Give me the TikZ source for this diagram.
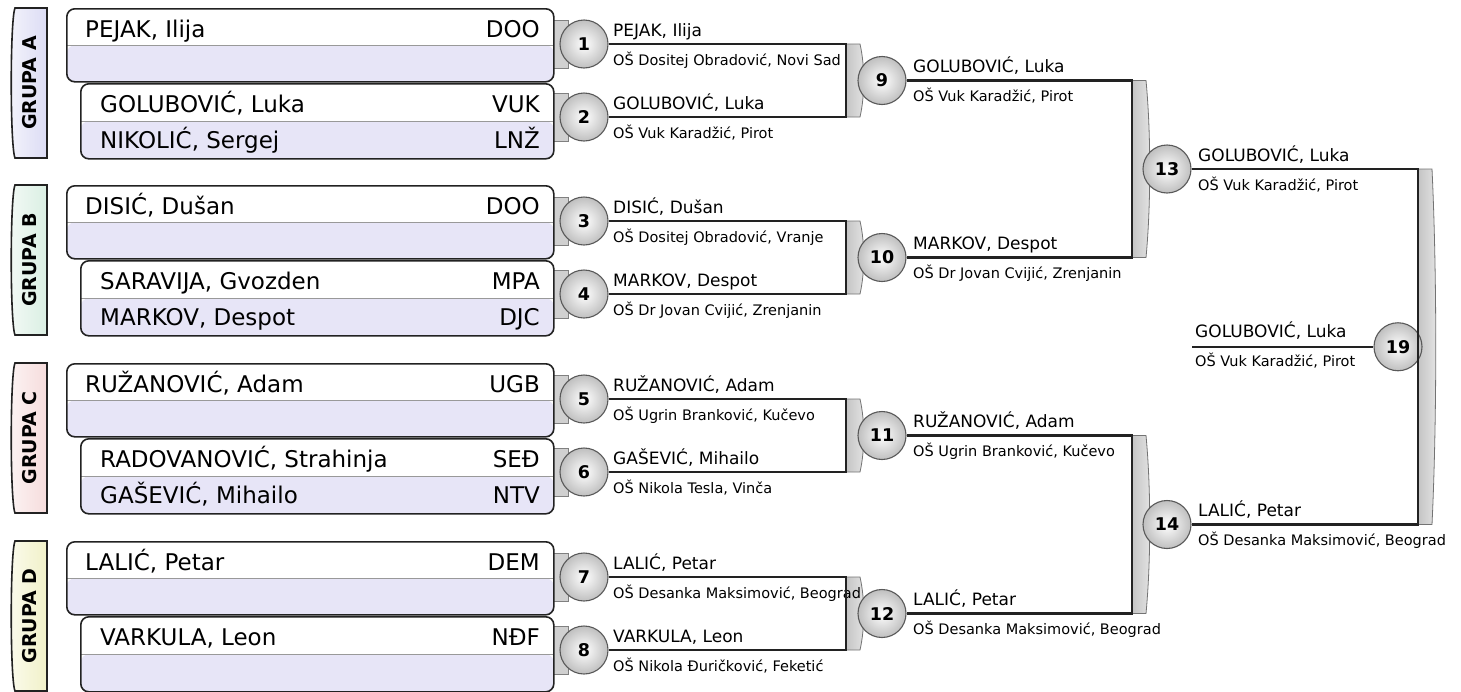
\documentclass[tikz,border=0pt]{standalone}
\usepackage{fontspec}
\setmainfont{DejaVu Sans}
\usetikzlibrary{backgrounds,calc}
\definecolor{ink}{HTML}{222222}
\definecolor{lav}{HTML}{E7E5F7}
\definecolor{grpA}{HTML}{DCDCF4}
\definecolor{grpB}{HTML}{DAEFE3}
\definecolor{grpC}{HTML}{F6DCDC}
\definecolor{grpD}{HTML}{F1F1C8}
\definecolor{band}{HTML}{C4C4C4}

\tikzset{
  pbox/.style={draw=ink,line width=1.6pt,rounded corners=8pt,fill=white,inner sep=0pt,anchor=north west,
    path picture={\fill[lav] (path picture bounding box.west) rectangle (path picture bounding box.south east);
      \draw[black!40,line width=.8pt] (path picture bounding box.west) -- (path picture bounding box.east);}},
  ball/.style={circle,draw=black!65,line width=1.1pt,minimum size=48pt,inner sep=0pt,
    inner color=white,outer color=gray!50,font=\bfseries\fontsize{17.5}{17.5}\selectfont},
  wire/.style={ink,line width=2.2pt},
  bandfill/.style={draw=black!55,line width=.8pt,left color=band,right color=band!45},
  tabfill/.style={draw=black!50,line width=.8pt,fill=band!80},
  pname/.style={anchor=base west,inner sep=0pt,font=\fontsize{23}{26}\selectfont},
  pcode/.style={anchor=base east,inner sep=0pt,font=\fontsize{23}{26}\selectfont},
  nm/.style={anchor=base west,inner sep=0pt,font=\fontsize{17}{20}\selectfont},
  sc/.style={anchor=base west,inner sep=0pt,font=\fontsize{14.5}{17}\selectfont},
  grp/.style={inner sep=0pt,font=\bfseries\fontsize{19}{21}\selectfont}
}

\begin{document}
\begin{tikzpicture}[x=1pt,y=-1pt]
  \path[use as bounding box] (0,0) rectangle (1461,691);

  % groups: side tab, seeded box and the pair box
  \foreach \g/\yy/\col/\na/\ca/\nb/\cb/\nc/\cc in {
    A/8/grpA/{PEJAK, Ilija}/DOO/{GOLUBOVIĆ, Luka}/VUK/{NIKOLIĆ, Sergej}/LNŽ,
    B/185/grpB/{DISIĆ, Dušan}/DOO/{SARAVIJA, Gvozden}/MPA/{MARKOV, Despot}/DJC,
    C/363/grpC/{RUŽANOVIĆ, Adam}/UGB/{RADOVANOVIĆ, Strahinja}/SEĐ/{GAŠEVIĆ, Mihailo}/NTV,
    D/541/grpD/{LALIĆ, Petar}/DEM/{VARKULA, Leon}/NĐF/{}/{}}{
    \draw[ink,line width=1.6pt,left color=\col!35!white,right color=\col]
      (15,\yy) .. controls (10,\yy+12) and (10,\yy+138) .. (15,\yy+150) -- (47,\yy+150) -- (47,\yy) -- cycle;
    \node[grp,rotate=90] (g\g) at (30,\yy+75) {GRUPA \g};
    \node[pbox,minimum width=487pt,minimum height=73pt] (b\g1) at (66,\yy) {};
    \node[pbox,minimum width=473pt,minimum height=75pt] (b\g2) at (80,\yy+75) {};
    \node[pname] (p\g1) at (85,\yy+29) {\na};
    \node[pcode] (c\g1) at (540,\yy+29) {\ca};
    \node[pname] (p\g2) at (100,\yy+104) {\nb};
    \node[pcode] (c\g2) at (540,\yy+104) {\cb};
    \node[pname] (p\g3) at (100,\yy+140) {\nc};
    \node[pcode] (c\g3) at (540,\yy+140) {\cc};
  }

  % first round matches
  \foreach \i/\y/\nm/\sc in {
    1/44/{PEJAK, Ilija}/{OŠ Dositej Obradović, Novi Sad},
    2/117/{GOLUBOVIĆ, Luka}/{OŠ Vuk Karadžić, Pirot},
    3/221/{DISIĆ, Dušan}/{OŠ Dositej Obradović, Vranje},
    4/294/{MARKOV, Despot}/{OŠ Dr Jovan Cvijić, Zrenjanin},
    5/399/{RUŽANOVIĆ, Adam}/{OŠ Ugrin Branković, Kučevo},
    6/472/{GAŠEVIĆ, Mihailo}/{OŠ Nikola Tesla, Vinča},
    7/577/{LALIĆ, Petar}/{OŠ Desanka Maksimović, Beograd},
    8/650/{VARKULA, Leon}/{OŠ Nikola Đuričković, Feketić}}{
    \node[ball] (m\i) at (584,\y) {\i};
    \begin{scope}[on background layer]
      \draw[tabfill] (553,\y-24) rectangle (568,\y+24);
    \end{scope}
    \node[nm] (n\i) at (613,\y-8) {\nm};
    \node[sc] (s\i) at (613,\y+21) {\sc};
  }

  % later rounds: winner of a and b meets in i
  \foreach \i/\a/\b/\xk/\xm/\nm/\sc in {
    9/1/2/846/882/{GOLUBOVIĆ, Luka}/{OŠ Vuk Karadžić, Pirot},
    10/3/4/846/882/{MARKOV, Despot}/{OŠ Dr Jovan Cvijić, Zrenjanin},
    11/5/6/846/882/{RUŽANOVIĆ, Adam}/{OŠ Ugrin Branković, Kučevo},
    12/7/8/846/882/{LALIĆ, Petar}/{OŠ Desanka Maksimović, Beograd},
    13/9/10/1132/1167/{GOLUBOVIĆ, Luka}/{OŠ Vuk Karadžić, Pirot},
    14/11/12/1132/1167/{LALIĆ, Petar}/{OŠ Desanka Maksimović, Beograd}}{
    \path (m\a) -- (m\b) coordinate[pos=.5] (mid\i);
    \coordinate (x\i) at (\xk,0);
    \coordinate (xm\i) at (\xm,0);
    \coordinate (t\i) at (m\a -| x\i);
    \coordinate (u\i) at (m\b -| x\i);
    \node[ball] (m\i) at (mid\i -| xm\i) {\i};
    \draw[wire] (m\a) -- (t\i) -- (u\i) -- (m\b);
    \begin{scope}[on background layer]
      \path[bandfill] (t\i) -- ($(t\i)+(14,0)$)
        .. controls ($(t\i)!.3!(u\i)+(19,0)$) and ($(t\i)!.7!(u\i)+(19,0)$) .. ($(u\i)+(14,0)$)
        -- (u\i) -- cycle;
    \end{scope}
    \node[nm] (n\i) at ($(m\i)+(31,-8)$) {\nm};
    \node[sc] (s\i) at ($(m\i)+(31,21)$) {\sc};
  }

  % final
  \path (m13) -- (m14) coordinate[pos=.5] (mid19);
  \coordinate (xm19) at (1398,0);
  \coordinate (x19) at (1418,0);
  \coordinate (t19) at (m13 -| x19);
  \coordinate (u19) at (m14 -| x19);
  \node[ball] (m19) at (mid19 -| xm19) {19};
  \draw[wire] (m13) -- (t19) -- (u19) -- (m14);
  \begin{scope}[on background layer]
    \path[bandfill] (t19) -- ($(t19)+(14,0)$)
      .. controls ($(t19)!.3!(u19)+(19,0)$) and ($(t19)!.7!(u19)+(19,0)$) .. ($(u19)+(14,0)$)
      -- (u19) -- cycle;
  \end{scope}
  \coordinate (f19) at ($(m19)+(-206,0)$);
  \draw[wire] (f19) -- (m19);
  \node[nm] (n19) at ($(f19)+(3,-9)$) {GOLUBOVIĆ, Luka};
  \node[sc] (s19) at ($(f19)+(3,20)$) {OŠ Vuk Karadžić, Pirot};
\end{tikzpicture}
\end{document}
